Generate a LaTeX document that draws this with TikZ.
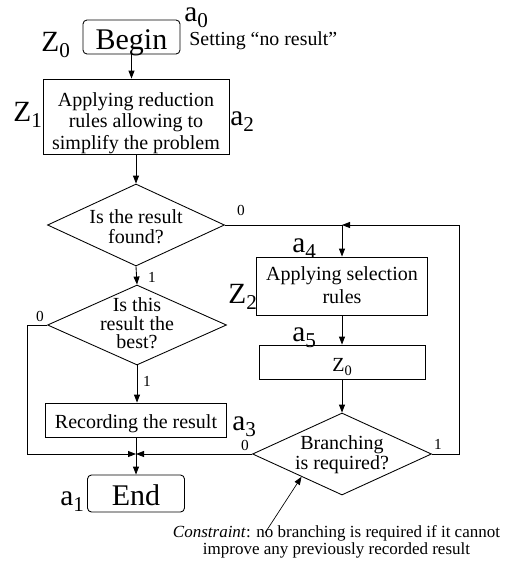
\documentclass[tikz,border=0pt]{standalone}
\usepackage{fontspec}
\setmainfont{Liberation Serif}
\usepackage{graphicx}
\usetikzlibrary{shapes.geometric,arrows.meta,calc}
\newcommand\sbs[2]{#1\raisebox{-0.22em}{\scalebox{0.72}{#2}}}
\begin{document}
\begin{tikzpicture}[x=0.75pt,y=-0.75pt,
  line width=0.65pt,
  arr/.style={-{Stealth[length=6pt,width=4.5pt,inset=0pt]}},
  box/.style={draw,rectangle,inner sep=0pt,align=center},
  rbox/.style={box,rounded corners=3pt},
  dia/.style={draw,diamond,inner sep=0pt},
  txt/.style={inner sep=0pt,align=center,font=\fontsize{15pt}{16pt}\selectfont},
  big/.style={font=\fontsize{22.5pt}{24pt}\selectfont},
  lab/.style={font=\fontsize{22pt}{24pt}\selectfont,inner sep=0pt,anchor=base west},
  num/.style={font=\fontsize{11.5pt}{13pt}\selectfont,inner sep=0pt},
]
\useasboundingbox (0,0) rectangle (506,565);
% main column
\node[rbox,big,minimum width=72.75pt,minimum height=25.5pt,text height=18.75pt,text depth=0pt] (begin) at (131.5,37) {Begin};
\node[box,minimum width=139.5pt,minimum height=56.25pt] (z1) at (136,116.5) {};
\node[txt,font=\fontsize{15pt}{16.25pt}\selectfont] (z1t) at (136,123) {Applying reduction\\rules allowing to\\simplify the problem};
\node[dia,minimum width=132.75pt,minimum height=61.5pt] (d1) at (136,225) {};
\node[txt,font=\fontsize{15pt}{15pt}\selectfont] (d1t) at (136,226.5) {Is the result\\found?};
\node[dia,minimum width=134.25pt,minimum height=60pt] (d2) at (137,325) {};
\node[txt,font=\fontsize{15pt}{14pt}\selectfont] (d2t) at (137,323.5) {Is this\\result the\\best?};
\node[box,txt,minimum width=135.75pt,minimum height=25.5pt,text height=12pt,text depth=0pt] (rec) at (136,420) {Recording the result};
\node[rbox,big,minimum width=72.75pt,minimum height=27.75pt,text height=17.25pt,text depth=0pt] (end) at (136,493.5) {End};
% right column
\node[box,minimum width=128.25pt,minimum height=43.5pt] (z2) at (342,286) {};
\node[txt,font=\fontsize{15pt}{17pt}\selectfont] (z2t) at (342,285) {Applying selection\\rules};
\node[box,txt,minimum width=124.5pt,minimum height=25.5pt,text height=13.5pt,text depth=0pt] (z0b) at (342,362) {\sbs{Z}{0}};
\node[dia,minimum width=134.25pt,minimum height=61.5pt] (d3) at (342,454) {};
\node[txt,font=\fontsize{15pt}{13.5pt}\selectfont] (d3t) at (342,454.5) {Branching\\is required?};
% labels
\node[lab] (lz0) at (41,51) {\sbs{Z}{0}};
\node[lab] (la0) at (184,21.5) {\sbs{a}{0}};
\node[inner sep=0pt,anchor=base west,font=\fontsize{14.9pt}{16pt}\selectfont] (set) at (189,45) {Setting “no result”};
\node[lab] (lz1) at (13,121) {\sbs{Z}{1}};
\node[lab] (la2) at (230,125) {\sbs{a}{2}};
\node[lab] (lz2) at (228,303) {\sbs{Z}{2}};
\node[lab] (la4) at (292,252) {\sbs{a}{4}};
\node[lab] (la5) at (292,341) {\sbs{a}{5}};
\node[lab] (la3) at (232,430) {\sbs{a}{3}};
\node[lab] (la1) at (60,505) {\sbs{a}{1}};
% branch numbers
\node[num] (n1) at (241,210) {0};
\node[num] (n2) at (152,277) {1};
\node[num] (n3) at (40,316) {0};
\node[num] (n4) at (147,381) {1};
\node[num] (n5) at (245,445) {0};
\node[num] (n6) at (438,444) {1};
% constraint
\node[inner sep=0pt,align=center,font=\fontsize{12.75pt}{12.75pt}\selectfont] (cons) at (336.5,541.5) {\textit{Constraint}: no branching is required if it cannot\\improve any previously recorded result};
\coordinate (cst) at (265,533);
\coordinate (cend) at ($(d3.west)!0.55!(d3.south)$);
% connectors
\draw[arr] (begin.south) -- (begin.south |- z1.north);
\draw[arr] (z1.south) -- (d1.north);
\draw[arr] (d1.south) -- (d2.north);
\draw[arr] (d2.south) -- (d2.south |- rec.north);
\draw[arr] (rec.south) -- (end.north);
\coordinate (j) at (d1.east -| z2.north);
\coordinate (rx) at (459,0);
\coordinate (lx) at (27,0);
\coordinate (jn) at (rec.south |- d3.west);
\draw (d1.east) -- (j);
\draw[arr] (j) -- (z2.north);
\draw[arr] (z2.south) -- (z0b.north);
\draw[arr] (z0b.south) -- (d3.north);
\draw[arr] (d3.east) -- (d3.east -| rx) -- (j -| rx) -- (j);
\draw[arr] (d2.west) -- (d2.west -| lx) -- (lx |- jn) -- (jn);
\draw[arr] (d3.west) -- (jn);
\draw[arr,line width=0.5pt] (cst) -- (cend);
\end{tikzpicture}
\end{document}
